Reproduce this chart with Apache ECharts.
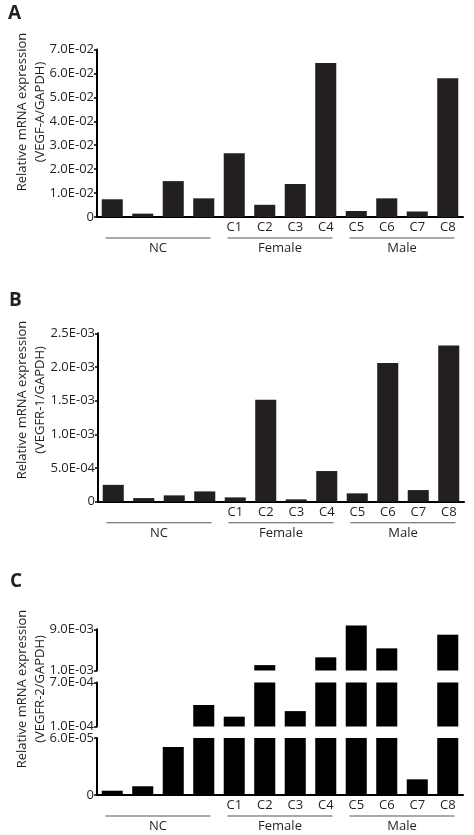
<!DOCTYPE html>
<html>
<head>
<meta charset="utf-8">
<script src="https://cdn.jsdelivr.net/npm/echarts@6/dist/echarts.min.js"></script>
<style>
html,body{margin:0;padding:0;background:#fff;}
#c{width:474px;height:835px;}
</style>
</head>
<body>
<div id="c"></div>
<script>
// ---- data ----
const categories = ['NC1','NC2','NC3','NC4','C1','C2','C3','C4','C5','C6','C7','C8'];
const tickLabels = ['','','','','C1','C2','C3','C4','C5','C6','C7','C8'];
const groups = ['NC','Female','Male'];
const vegfA  = [0.0074,0.0014,0.0150,0.0078,0.0266,0.0051,0.0138,0.0644,0.0025,0.0078,0.0023,0.0580];
const vegfR1 = [2.5e-4,5.4e-5,9.4e-5,1.53e-4,6.4e-5,1.515e-3,3.5e-5,4.55e-4,1.24e-4,2.06e-3,1.73e-4,2.32e-3];
const vegfR2 = [4.5e-6,9.2e-6,5.05e-5,3.93e-4,2.34e-4,2.05e-3,3.1e-4,3.56e-3,9.75e-3,5.3e-3,1.65e-5,7.95e-3];
const yTicksA = [0,0.01,0.02,0.03,0.04,0.05,0.06,0.07];
const yTicksB = [0,5e-4,1e-3,1.5e-3,2e-3,2.5e-3];
const segLow  = [0, 6e-5];
const segMid  = [1e-4, 7e-4];
const segHigh = [1e-3, 9e-3];
const titles = ['(VEGF-A/GAPDH)','(VEGFR-1/GAPDH)','(VEGFR-2/GAPDH)'];
const panelLetters = ['A','B','C'];

// ---- helpers ----
const FONT = 'Open Sans';
const TXT = '#231f20';
function sci(v){
  if (Math.abs(v) < 1e-12) return '0';
  const parts = v.toExponential(1).split('e');
  const n = parseInt(parts[1],10);
  return parts[0] + 'E' + (n<0?'-':'+') + String(Math.abs(n)).padStart(2,'0');
}
function catAxis(grid, show){
  return {
    type:'category', gridIndex:grid, data:categories,
    axisLine:{show:show, lineStyle:{color:'#000', width:2}},
    axisTick:{show:false},
    axisLabel:{show:show, margin:4, fontFamily:FONT, fontSize:13, color:TXT,
      formatter:(v,i)=>tickLabels[i]},
    splitLine:{show:false}
  };
}
function groupAxis(grid){
  return {
    type:'category', gridIndex:grid, data:groups, position:'bottom', offset:19,
    axisLine:{show:false}, axisTick:{show:false}, splitLine:{show:false},
    axisLabel:{margin:0, interval:0, fontFamily:FONT, color:TXT,
      formatter:v=>'{l|}\n{t|'+v+'}',
      rich:{
        l:{width:105, height:1, lineHeight:4, backgroundColor:'#555'},
        t:{fontFamily:FONT, fontSize:13, lineHeight:17, color:TXT}
      }}
  };
}
function valAxis(grid, min, max, ticks){
  return {
    type:'value', gridIndex:grid, min:min, max:max, startValue:min,
    axisLine:{show:true, lineStyle:{color:'#000', width:2}},
    axisTick:{show:true, inside:false, length:3, customValues:ticks, lineStyle:{color:'#000', width:1.5}},
    axisLabel:{margin:3, fontFamily:FONT, fontSize:13, color:TXT, customValues:ticks,
      formatter:v=>sci(v)},
    splitLine:{show:false}
  };
}
function segData(arr, min){ return arr.map(v => v >= min ? v : '-'); }

const barBase = {type:'bar', barCategoryGap:'31%', silent:true, animation:false};

const option = {
  animation:false,
  textStyle:{fontFamily:FONT},
  grid:[
    {left:97, right:11, top:49.5, height:167.5},
    {left:98, right:10, top:333.3, height:168.4},
    {left:97, right:11, top:738, height:57},
    {left:97, right:11, top:682.5, height:44},
    {left:97, right:11, top:629.3, height:41.2}
  ],
  xAxis:[
    catAxis(0,true), groupAxis(0),
    catAxis(1,true), groupAxis(1),
    catAxis(2,true), groupAxis(2),
    catAxis(3,false), catAxis(4,false)
  ],
  yAxis:[
    valAxis(0, 0, 0.07, yTicksA),
    valAxis(1, 0, 2.5e-3, yTicksB),
    valAxis(2, segLow[0], segLow[1], segLow),
    valAxis(3, segMid[0], segMid[1], segMid),
    valAxis(4, segHigh[0], segHigh[1], segHigh)
  ],
  series:[
    Object.assign({}, barBase, {xAxisIndex:0, yAxisIndex:0, data:vegfA, itemStyle:{color:'#231f20'}}),
    Object.assign({}, barBase, {xAxisIndex:2, yAxisIndex:1, data:vegfR1, itemStyle:{color:'#231f20'}}),
    Object.assign({}, barBase, {xAxisIndex:4, yAxisIndex:2, data:segData(vegfR2, segLow[0]), clip:true, itemStyle:{color:'#000'}}),
    Object.assign({}, barBase, {xAxisIndex:6, yAxisIndex:3, data:segData(vegfR2, segMid[0]), clip:true, itemStyle:{color:'#000'}}),
    Object.assign({}, barBase, {xAxisIndex:7, yAxisIndex:4, data:segData(vegfR2, segHigh[0]), clip:false, itemStyle:{color:'#000'}})
  ],
  graphic:[
    {type:'text', x:8, y:4, style:{text:panelLetters[0], font:'bold 19px "Open Sans"', fill:TXT}},
    {type:'text', x:9, y:291, style:{text:panelLetters[1], font:'bold 19px "Open Sans"', fill:TXT}},
    {type:'text', x:10, y:572, style:{text:panelLetters[2], font:'bold 19px "Open Sans"', fill:TXT}},
    {type:'text', x:31, y:112, rotation:Math.PI/2, style:{text:'Relative mRNA expression\n'+titles[0], font:'13px "Open Sans"', lineHeight:18, fill:TXT, align:'center', verticalAlign:'middle'}},
    {type:'text', x:31, y:400, rotation:Math.PI/2, style:{text:'Relative mRNA expression\n'+titles[1], font:'13px "Open Sans"', lineHeight:18, fill:TXT, align:'center', verticalAlign:'middle'}},
    {type:'text', x:31, y:689, rotation:Math.PI/2, style:{text:'Relative mRNA expression\n'+titles[2], font:'13px "Open Sans"', lineHeight:18, fill:TXT, align:'center', verticalAlign:'middle'}}
  ]
};
const chart = echarts.init(document.getElementById('c'), null, {renderer:'canvas'});
chart.setOption(option);
</script>
</body>
</html>
